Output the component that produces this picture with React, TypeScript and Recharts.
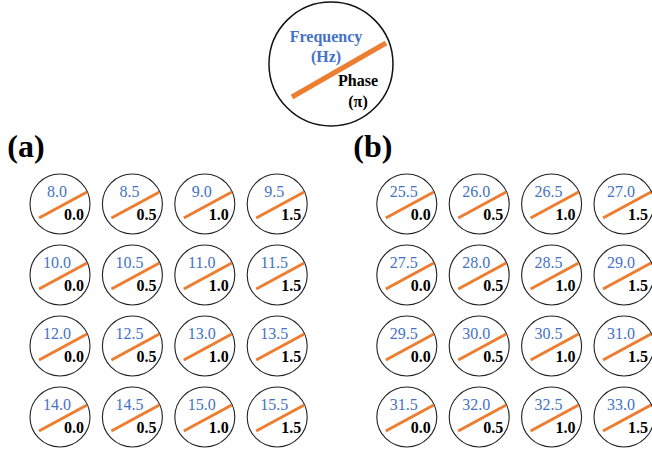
import { Scatter, ScatterChart, XAxis, YAxis } from "recharts";

// phase (π) per column, frequency (Hz) per row and column
const phases = [0.0, 0.5, 1.0, 1.5];
const freqsA = [
  [8.0, 8.5, 9.0, 9.5],
  [10.0, 10.5, 11.0, 11.5],
  [12.0, 12.5, 13.0, 13.5],
  [14.0, 14.5, 15.0, 15.5],
];
const freqsB = [
  [25.5, 26.0, 26.5, 27.0],
  [27.5, 28.0, 28.5, 29.0],
  [29.5, 30.0, 30.5, 31.0],
  [31.5, 32.0, 32.5, 33.0],
];
const panelNames = ["(a)", "(b)"];

const BLUE = "#4472C4";
const ORANGE = "#ED7D31";
const serif = { fontFamily: "Liberation Serif" };

// grid units: one column / one row step
const COL_PX = 72.4;
const ROW_PX = 71;
const X_DOMAIN: [number, number] = [-60 / COL_PX, (652 - 60) / COL_PX];
const Y_DOMAIN: [number, number] = [-204 / ROW_PX, (454 - 204) / ROW_PX];
const PANEL_B_SHIFT = 4.79;

type Cell = { x: number; y: number; freq: number; phase: number };

const toCells = (freqs: number[][], shift: number): Cell[] =>
  freqs.flatMap((row, r) =>
    row.map((freq, c) => ({ x: c + shift, y: r, freq, phase: phases[c] }))
  );

const cellsA = toCells(freqsA, 0);
const cellsB = toCells(freqsB, PANEL_B_SHIFT);
const labels = panelNames.map((name, i) => ({
  x: i * PANEL_B_SHIFT,
  y: 0,
  name,
}));
const keyPoint = [{ x: 3.743, y: -1.972 }];

const fmt = (v: number) => v.toFixed(1);

function CellShape(props: any) {
  const { cx, cy, payload } = props;
  return (
    <g>
      <circle cx={cx} cy={cy} r={30} fill="#fff" stroke="#222" strokeWidth={1.1} />
      <line
        x1={cx - 21}
        y1={cy + 14}
        x2={cx + 27}
        y2={cy - 12}
        stroke={ORANGE}
        strokeWidth={3}
      />
      <text
        x={cx - 3}
        y={cy - 7}
        textAnchor="middle"
        style={serif}
        fontSize={16}
        fill={BLUE}
      >
        {fmt(payload.freq)}
      </text>
      <text
        x={cx + 14}
        y={cy + 16}
        textAnchor="middle"
        style={serif}
        fontSize={16}
        fontWeight="bold"
        fill="#000"
      >
        {fmt(payload.phase)}
      </text>
    </g>
  );
}

function KeyShape(props: any) {
  const { cx, cy } = props;
  return (
    <g>
      <circle cx={cx} cy={cy} r={62} fill="#fff" stroke="#111" strokeWidth={1.5} />
      <line
        x1={cx - 39}
        y1={cy + 33}
        x2={cx + 55}
        y2={cy - 21}
        stroke={ORANGE}
        strokeWidth={5}
      />
      <g style={serif} fontSize={16} fontWeight="bold" textAnchor="middle">
        <text x={cx - 5} y={cy - 22} fill={BLUE}>
          Frequency
        </text>
        <text x={cx - 5} y={cy - 2} fill={BLUE}>
          (Hz)
        </text>
        <text x={cx + 27} y={cy + 22} fill="#000">
          Phase
        </text>
        <text x={cx + 27} y={cy + 43} fill="#000">
          (π)
        </text>
      </g>
    </g>
  );
}

function PanelLabel(props: any) {
  const { cx, cy, payload } = props;
  return (
    <text
      x={cx - 34}
      y={cy - 47}
      textAnchor="middle"
      style={serif}
      fontSize={32}
      fontWeight="bold"
      fill="#000"
    >
      {payload.name}
    </text>
  );
}

export default function App() {
  return (
    <div style={{ position: "absolute", left: 0, top: 0, background: "#fff" }}>
      <ScatterChart
        width={652}
        height={454}
        margin={{ top: 0, right: 0, bottom: 0, left: 0 }}
      >
        <XAxis type="number" dataKey="x" domain={X_DOMAIN} hide />
        <YAxis type="number" dataKey="y" domain={Y_DOMAIN} reversed hide />
        <Scatter data={keyPoint} shape={KeyShape} isAnimationActive={false} />
        <Scatter data={labels} shape={PanelLabel} isAnimationActive={false} />
        <Scatter data={cellsA} shape={CellShape} isAnimationActive={false} />
        <Scatter data={cellsB} shape={CellShape} isAnimationActive={false} />
      </ScatterChart>
    </div>
  );
}
